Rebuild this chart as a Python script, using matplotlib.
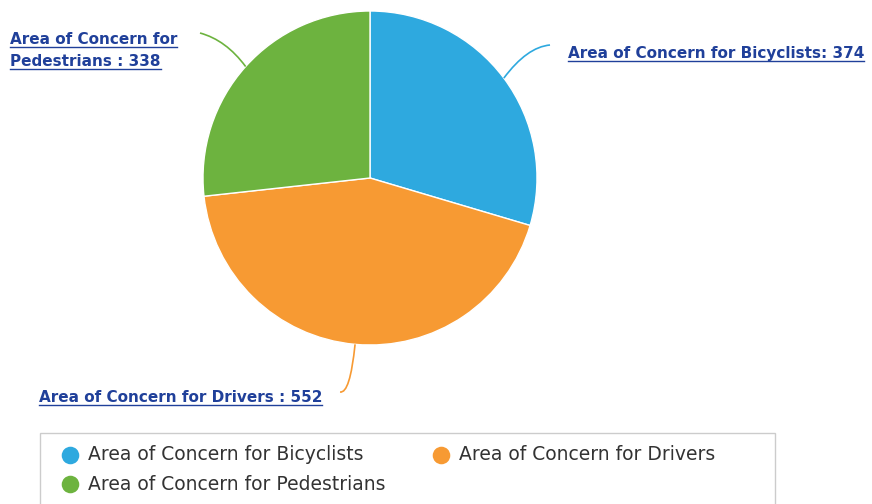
import numpy as np
import matplotlib.pyplot as plt
from matplotlib.path import Path
from matplotlib.patches import PathPatch, Rectangle

# data
categories = ["Area of Concern for Bicyclists", "Area of Concern for Drivers",
              "Area of Concern for Pedestrians"]
values = [374, 552, 338]
colors = ["#2EA9DF", "#F79A33", "#6DB33F"]
label_lines = [["Area of Concern for Bicyclists: 374"],
               ["Area of Concern for Drivers : 552"],
               ["Area of Concern for", "Pedestrians : 338"]]

W, H = 872, 504
fig = plt.figure(figsize=(W / 100, H / 100), dpi=100)
ax = fig.add_axes([0, 0, 1, 1])

cx, cy, r = 370, H - 178, 167
ax.pie(values, colors=colors, startangle=90, counterclock=False,
       center=(cx, cy), radius=r, frame=False,
       wedgeprops=dict(edgecolor="white", linewidth=1))
ax.set_xlim(0, W)
ax.set_ylim(0, H)
ax.set_aspect("auto")
ax.axis("off")

# connector geometry (pixel layout): label anchor, bezier control, text pos
label_color = "#20409A"
conn = [dict(end=(550, H - 45), ctrl=(527, H - 47), text=(568, H - 58), ha="left"),
        dict(end=(340, H - 392), ctrl=(350, H - 394), text=(322, H - 402), ha="right"),
        dict(end=(200, H - 33), ctrl=(226, H - 40), text=(10, H - 44), ha="left")]

total = sum(values)
start = 90.0
texts = []
for i, v in enumerate(values):
    sweep = v / total * 360
    mid = np.deg2rad(start - sweep / 2)
    start -= sweep
    p0 = (cx + r * np.cos(mid), cy + r * np.sin(mid))
    c = conn[i]
    path = Path([p0, c["ctrl"], c["end"]], [Path.MOVETO, Path.CURVE3, Path.CURVE3])
    ax.add_patch(PathPatch(path, fill=False, edgecolor=colors[i], linewidth=1.2))
    tx, ty = c["text"]
    for j, line in enumerate(label_lines[i]):
        t = ax.text(tx, ty - j * 22, line, ha=c["ha"], va="baseline",
                    fontsize=11, color=label_color, fontweight="bold",
                    family="DejaVu Sans")
        texts.append(t)

# underline labels
fig.canvas.draw()
renderer = fig.canvas.get_renderer()
for t in texts:
    bb = t.get_window_extent(renderer)
    y = t.get_position()[1] - 3
    ax.plot([bb.x0, bb.x1], [y, y], color=label_color, linewidth=1)

# legend box
ax.add_patch(Rectangle((40, -10), 735, H - 433 + 10, fill=False,
                       edgecolor="#CCCCCC", linewidth=1))
leg_pos = [(70, H - 455), (441, H - 455), (70, H - 484)]
for i, cat in enumerate(categories):
    x, y = leg_pos[i]
    ax.scatter([x], [y], s=160, color=colors[i], linewidths=0)
    ax.text(x + 18, y, cat, ha="left", va="center", fontsize=13.5,
            color="#333333", family="DejaVu Sans")

fig.savefig("out.png", dpi=100)
